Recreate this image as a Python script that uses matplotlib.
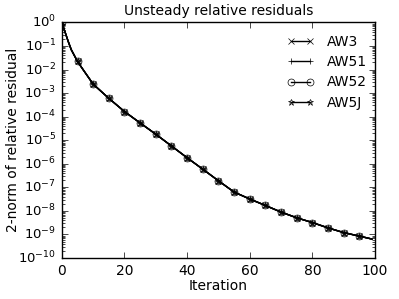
import numpy as np
import matplotlib
matplotlib.use('Agg')
from matplotlib import pyplot as plt
from matplotlib.ticker import FuncFormatter

# residual history (all four cases overlap)
ITERS = [0, 1, 2, 3, 5, 7, 10, 15, 20, 25, 30, 35, 40, 45, 50, 55, 60, 65,
         70, 75, 80, 85, 90, 95, 99]
RESID = [1.0, 4.0e-1, 1.6e-1, 7.0e-2, 2.2e-2, 9.0e-3, 2.4e-3, 6.0e-4, 1.65e-4,
         5.4e-5, 1.8e-5, 5.7e-6, 1.8e-6, 5.9e-7, 1.9e-7, 6.3e-8, 3.2e-8,
         1.7e-8, 8.9e-9, 5.1e-9, 3.2e-9, 1.9e-9, 1.2e-9, 8.5e-10, 6.4e-10]
CASES = ['AW3', 'AW51', 'AW52', 'AW5J']
MARKERS = {'AW3': 'x', 'AW51': '+', 'AW52': 'o', 'AW5J': '*'}

plt.style.use('classic')
plt.rcParams['mathtext.fontset'] = 'dejavusans'
plt.rcParams['axes.unicode_minus'] = False

fig = plt.figure(figsize=(3.99, 2.99), dpi=100)
ax = fig.add_axes([0.155, 0.137, 0.785, 0.788])

it = np.array(ITERS)
res = np.array(RESID)
mark = [i for i, v in enumerate(ITERS) if v % 5 == 0]
for name in CASES:
    ax.semilogy(it, res, color='k', lw=1.0, marker=MARKERS[name],
                markevery=mark, ms=5, mfc='none', mec='k', mew=0.5, label=name)

ax.set_xlim(0, 100)
ax.set_ylim(1e-10, 1e0)
ax.set_xticks([0, 20, 40, 60, 80, 100])
ax.set_yticks([10.0 ** k for k in range(-10, 1)])
ax.yaxis.set_major_formatter(FuncFormatter(
    lambda v, pos: r'$\mathdefault{10^{%d}}$' % int(round(np.log10(v)))))
ax.tick_params(axis='x', labelsize=10)
ax.tick_params(axis='y', labelsize=9.5)
ax.set_xlabel('Iteration', fontsize=10, labelpad=1)
ax.set_ylabel('2-norm of relative residual', fontsize=10)
ax.yaxis.set_label_coords(-0.135, 0.5)
ax.set_title('Unsteady relative residuals', fontsize=10)
ax.legend(loc='upper right', bbox_to_anchor=(1.015, 1.0), frameon=False,
          fontsize=10, numpoints=2, handlelength=2.0, handletextpad=0.9,
          labelspacing=0.45)

fig.savefig('out.png', dpi=100)
